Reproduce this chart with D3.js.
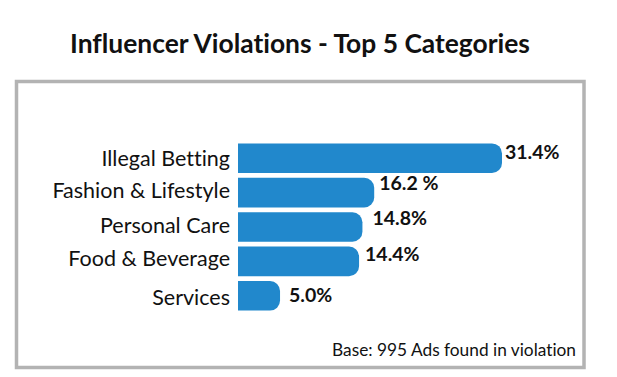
<!DOCTYPE html>
<html>
<head>
<meta charset="utf-8">
<script src="https://cdn.jsdelivr.net/npm/d3@7"></script>
<style>
  body { margin: 0; background: #fff; }
  svg { display: block; font-family: Lato, "Open Sans", sans-serif; font-variant-ligatures: none; }
</style>
</head>
<body>
<script>
// data
var categories = ["Illegal Betting", "Fashion & Lifestyle", "Personal Care", "Food & Beverage", "Services"];
var values = [31.4, 16.2, 14.8, 14.4, 5.0];
var valueLabels = ["31.4%", "16.2 %", "14.8%", "14.4%", "5.0%"];

// hand placement of the labels (they are not aligned in the original)
var labelDx = [3, 5, 10, 6, 9];
var labelDy = [16, 12, 13, 14, 21];
var catDy = [0, -3, -2, -3, 1];

var w = 617, h = 377;

var svg = d3.select("body").append("svg")
    .attr("width", w)
    .attr("height", h);

// title
svg.append("text")
    .attr("x", 300)
    .attr("y", 53)
    .attr("text-anchor", "middle")
    .style("font-size", "26.4px")
    .style("font-weight", "bold")
    .style("fill", "#111")
    .text("Influencer Violations - Top 5 Categories");

// frame
svg.append("rect")
    .attr("x", 16.5)
    .attr("y", 81.5)
    .attr("width", 567.5)
    .attr("height", 286)
    .style("fill", "none")
    .style("stroke", "#b3b3b3")
    .style("stroke-width", 3.5);

var x = d3.scaleLinear()
    .domain([0, 31.4])
    .range([238, 502]);

var y = d3.scaleBand()
    .domain(categories)
    .range([141, 313])
    .paddingInner(0.14)
    .paddingOuter(0.07);

// bar with square left end and rounded right end
function barPath(x0, x1, y0, hh) {
  var r = Math.min(10, (x1 - x0) / 2, hh / 2);
  return "M" + x0 + "," + y0 +
    "H" + (x1 - r) +
    "A" + r + "," + r + " 0 0 1 " + x1 + "," + (y0 + r) +
    "V" + (y0 + hh - r) +
    "A" + r + "," + r + " 0 0 1 " + (x1 - r) + "," + (y0 + hh) +
    "H" + x0 + "Z";
}

var rows = svg.selectAll("g.row")
    .data(categories)
    .enter()
    .append("g")
    .attr("class", "row");

rows.append("path")
    .attr("d", function(d, i) { return barPath(x(0), x(values[i]), y(d), y.bandwidth()); })
    .style("fill", "#2188cc");

rows.append("text")
    .attr("x", x(0) - 8)
    .attr("y", function(d, i) { return y(d) + y.bandwidth() / 2 + 8 + catDy[i]; })
    .attr("text-anchor", "end")
    .style("font-size", "21.5px")
    .style("fill", "#111")
    .text(function(d) { return d; });

rows.append("text")
    .attr("x", function(d, i) { return x(values[i]) + labelDx[i]; })
    .attr("y", function(d, i) { return y(d) + labelDy[i]; })
    .style("font-size", "19.5px")
    .style("font-weight", "bold")
    .style("fill", "#111")
    .text(function(d, i) { return valueLabels[i]; });

// footnote
svg.append("text")
    .attr("x", 576)
    .attr("y", 356)
    .attr("text-anchor", "end")
    .style("font-size", "17.3px")
    .style("fill", "#111")
    .text("Base: 995 Ads found in violation");
</script>
</body>
</html>
